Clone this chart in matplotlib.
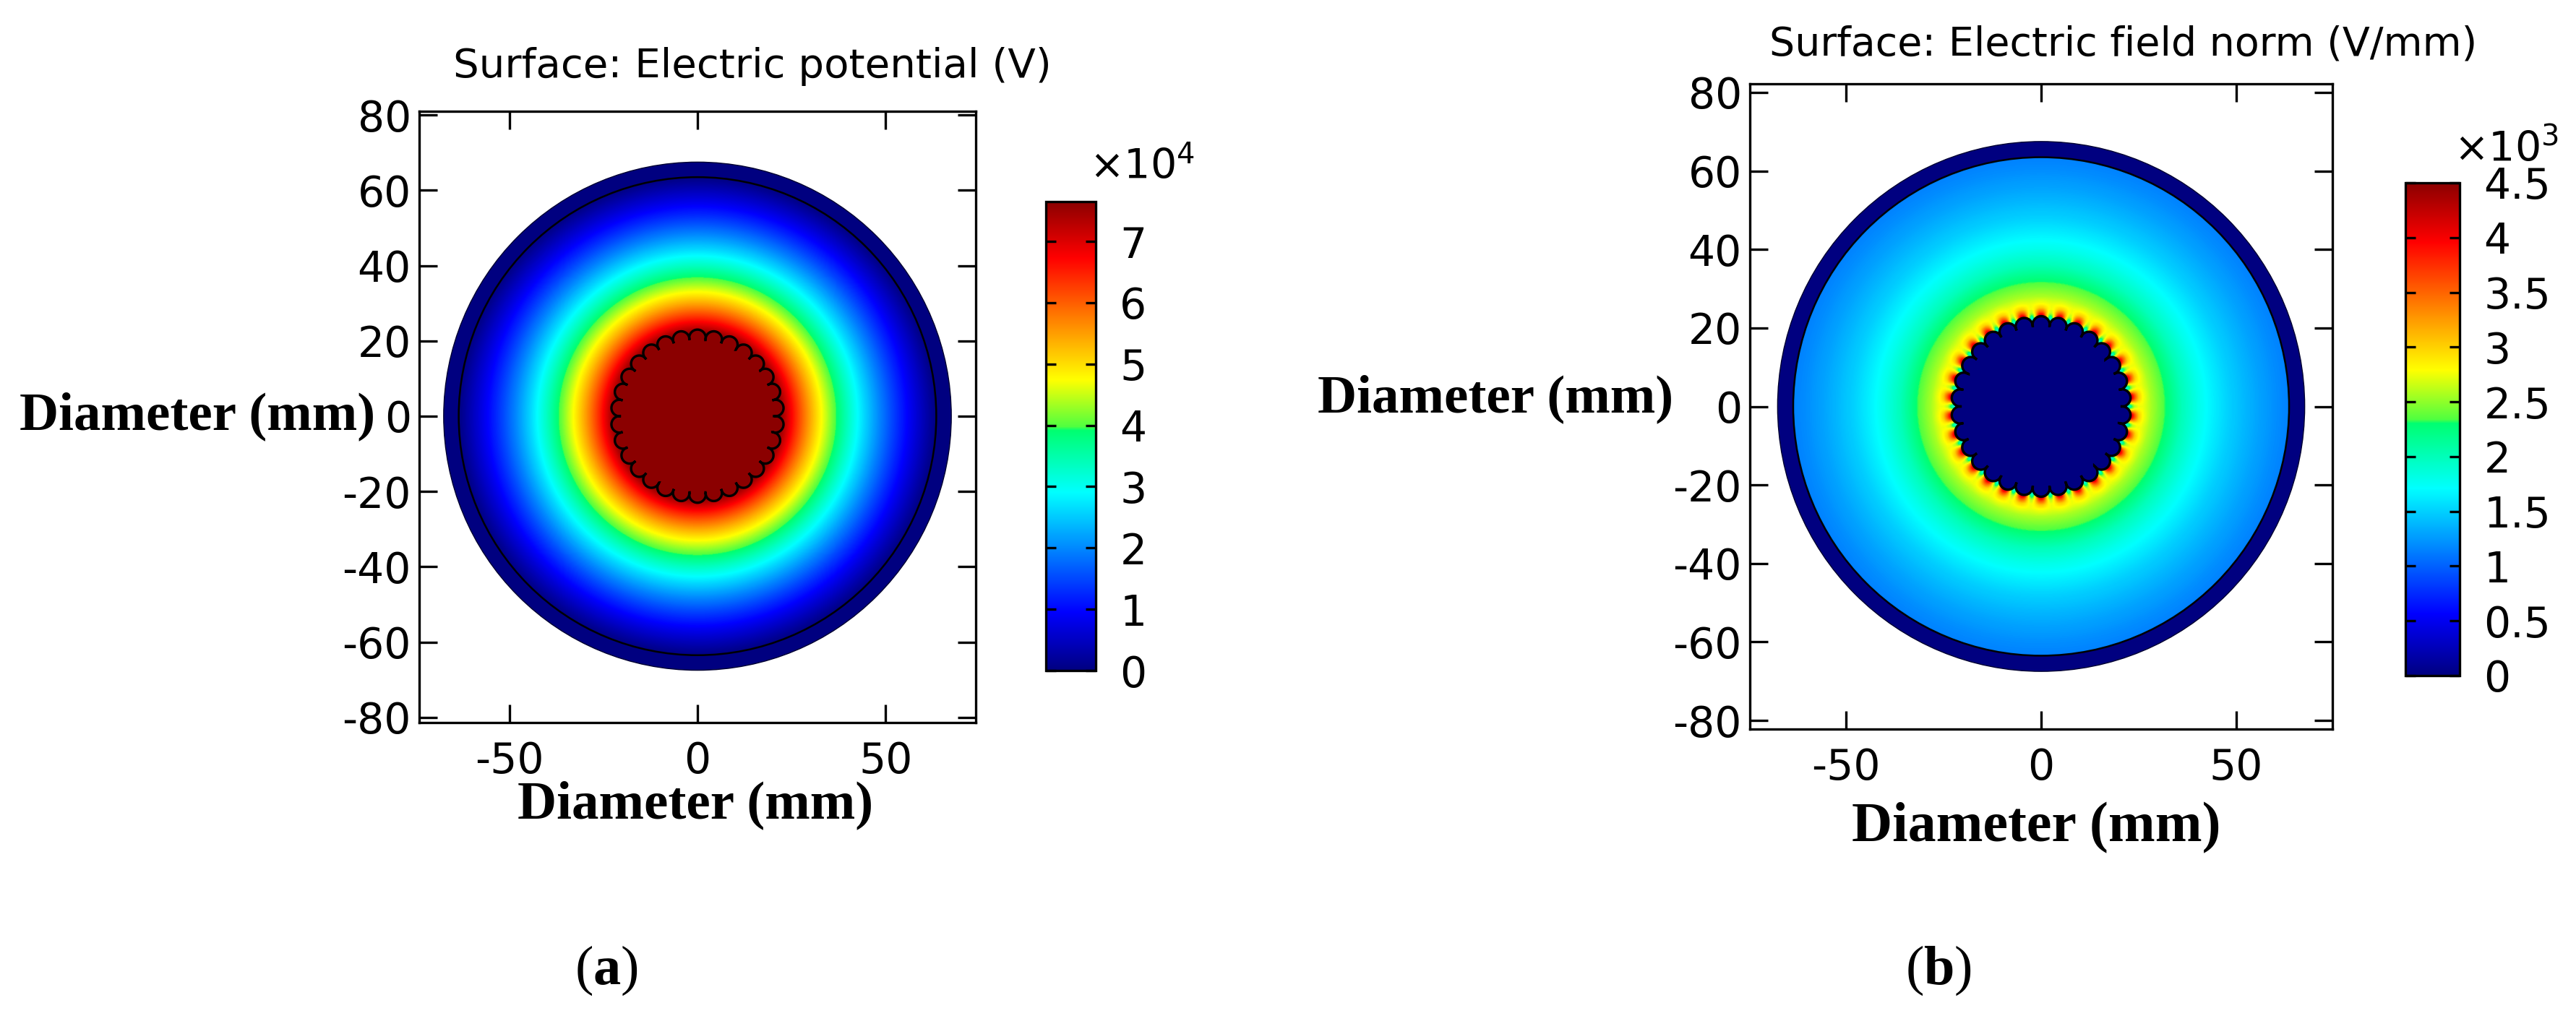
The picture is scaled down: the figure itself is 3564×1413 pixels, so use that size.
import numpy as np
import matplotlib
matplotlib.use('Agg')
import matplotlib.pyplot as plt
from matplotlib.colors import LinearSegmentedColormap, Normalize
from matplotlib.patches import Circle, Polygon
from matplotlib.cm import ScalarMappable

plt.rcParams['font.family'] = 'DejaVu Sans'
plt.rcParams['mathtext.fontset'] = 'custom'
plt.rcParams['mathtext.bf'] = 'Liberation Serif:bold'
plt.rcParams['mathtext.rm'] = 'DejaVu Sans'
plt.rcParams['axes.unicode_minus'] = False

W, H = 3564, 1413

# colour scale stops
cmap_stops = [0.0, 0.125, 0.38, 0.512, 0.52, 0.62, 0.88, 1.0]
cmap_cols = ['#000080', '#0000ff', '#00ffff', '#00ff70', '#50ff40', '#ffff00', '#ff0000', '#8b0000']

# radial profile of the potential (mm, x10^4 V)
pot_r = [20, 22, 24, 26, 28, 30, 32.5, 36, 40, 44, 48, 52, 56, 60, 63.5]
pot_v = [7.65, 7.65, 7.02, 6.44, 5.91, 5.41, 4.83, 4.10, 3.34, 2.65, 2.02, 1.44, 0.91, 0.41, 0.0]

# radial profile of the field (mm, x10^3 V/mm), off lobe tips and off notches
field_r = [20, 21, 22, 23, 24, 25, 26, 28, 31.5, 36, 40, 44, 48, 52, 56, 60, 63.5]
field_tip = [4.3, 4.3, 4.3, 4.3, 3.6, 3.05, 2.8, 2.57, 2.33, 2.0, 1.8, 1.64, 1.5, 1.39, 1.29, 1.2, 1.14]
field_notch = [1.0, 1.3, 1.65, 2.1, 2.6, 2.75, 2.75, 2.57, 2.33, 2.0, 1.8, 1.64, 1.5, 1.39, 1.29, 1.2, 1.14]

axis_ticks_x = [-50, 0, 50]
axis_ticks_y = [-80, -60, -40, -20, 0, 20, 40, 60, 80]
pot_ticks = [0, 1, 2, 3, 4, 5, 6, 7]
pot_ticklabels = ['0', '1', '2', '3', '4', '5', '6', '7']
field_ticks = [0, 0.5, 1, 1.5, 2, 2.5, 3, 3.5, 4, 4.5]
field_ticklabels = ['0', '0.5', '1', '1.5', '2', '2.5', '3', '3.5', '4', '4.5']

n_lobes = 30
r_outer = 67.5
r_shield = 63.5
lobe_r = 2.2
pitch_r = 20.8

cmap = LinearSegmentedColormap.from_list('comsol', list(zip(cmap_stops, cmap_cols)), N=1024)


def px_axes(fig, l, t, r, b):
    return fig.add_axes([l / W, 1 - b / H, (r - l) / W, (b - t) / H])


def conductor_outline():
    half = np.pi / n_lobes
    rn = pitch_r * np.cos(half) - np.sqrt(lobe_r ** 2 - (pitch_r * np.sin(half)) ** 2)
    a = np.arctan2(rn * np.sin(half), rn * np.cos(half) - pitch_r)
    pts = []
    for k in range(n_lobes):
        th = np.pi / 2 + k * 2 * half
        phi = np.linspace(-a, a, 24)
        pts.append(np.column_stack([pitch_r * np.cos(th) + lobe_r * np.cos(th + phi),
                                    pitch_r * np.sin(th) + lobe_r * np.sin(th + phi)]))
    return np.vstack(pts)


def draw_panel(ax, cax, X, Y, C, vmax, ticks, ticklabels, cond_value, ylim, xlim, shield_lw):
    navy = cmap(0.0)
    ax.add_patch(Circle((0, 0), r_outer, fc=navy, ec='#000030', lw=1.0, zorder=1))
    levels = np.linspace(0, vmax, 400)
    ax.contourf(X, Y, C, levels=levels, cmap=cmap, extend='both', zorder=2, antialiased=False)
    ax.add_patch(Circle((0, 0), r_shield, fc='none', ec='black', lw=shield_lw, zorder=3))
    ax.add_patch(Polygon(conductor_outline(), closed=True, fc=cmap(cond_value), ec='black', lw=2.4, zorder=4))
    ax.set_xlim(xlim)
    ax.set_ylim(ylim)
    ax.set_xticks(axis_ticks_x)
    ax.set_yticks(axis_ticks_y)
    ax.tick_params(direction='in', length=18, width=2.4, top=True, right=True, labelsize=42)
    ax.tick_params(axis='x', pad=18)
    ax.tick_params(axis='y', pad=8)
    for s in ax.spines.values():
        s.set_linewidth(2.4)
    cb = plt.colorbar(ScalarMappable(Normalize(0, vmax), cmap), cax=cax)
    cb.set_ticks(ticks)
    cb.set_ticklabels(ticklabels)
    cax.tick_params(direction='in', length=10, width=2.4, left=True, right=True, labelsize=42, pad=24)
    cb.outline.set_linewidth(2.4)


fig = plt.figure(figsize=(W / 100, H / 100), dpi=100)

# (a) potential
ax1 = px_axes(fig, 580, 154, 1350, 1000)
cax1 = px_axes(fig, 1447, 279, 1516, 928)
th = np.linspace(0, 2 * np.pi, 721)
R, T = np.meshgrid(pot_r, th)
V = np.tile(pot_v, (len(th), 1))
draw_panel(ax1, cax1, R * np.cos(T), R * np.sin(T), V, 7.65, pot_ticks, pot_ticklabels, 1.0,
           (-81.4, 81), (-74, 74), 1.8)

# (b) field
ax2 = px_axes(fig, 2421, 116, 3227, 1009)
cax2 = px_axes(fig, 3328, 253, 3403, 935)
R, T = np.meshgrid(field_r, th)
w = (np.cos(n_lobes * (T - np.pi / 2)) + 1) / 2
E = np.array(field_notch) + w * (np.array(field_tip) - np.array(field_notch))
draw_panel(ax2, cax2, R * np.cos(T), R * np.sin(T), E, 4.5, field_ticks, field_ticklabels, 0.0,
           (-82.2, 82.2), (-74.6, 74.6), 1.8)

fig.text(1041 / W, 1 - 92 / H, 'Surface: Electric potential (V)', ha='center', va='center', fontsize=40.5)
fig.text(2938 / W, 1 - 61 / H, 'Surface: Electric field norm (V/mm)', ha='center', va='center', fontsize=40)
fig.text(1580 / W, 1 - 232 / H, r'×10$^{4}$', ha='center', va='center', fontsize=41)
fig.text(3468 / W, 1 - 207 / H, r'×10$^{3}$', ha='center', va='center', fontsize=41)

serif = {'family': 'Liberation Serif', 'weight': 'bold', 'ha': 'center', 'va': 'center'}
fig.text(273 / W, 1 - 576 / H, 'Diameter (mm)', fontsize=54, **serif)
fig.text(962 / W, 1 - 1114 / H, 'Diameter (mm)', fontsize=54, **serif)
fig.text(2069 / W, 1 - 552 / H, 'Diameter (mm)', fontsize=54, **serif)
fig.text(2817 / W, 1 - 1146 / H, 'Diameter (mm)', fontsize=56, **serif)

fig.text(839 / W, 1 - 1343 / H, r'($\mathbf{a}$)', family='Liberation Serif', ha='center', va='center', fontsize=55)
fig.text(2682 / W, 1 - 1343 / H, r'($\mathbf{b}$)', family='Liberation Serif', ha='center', va='center', fontsize=55)

fig.savefig('out.png', dpi=100)
